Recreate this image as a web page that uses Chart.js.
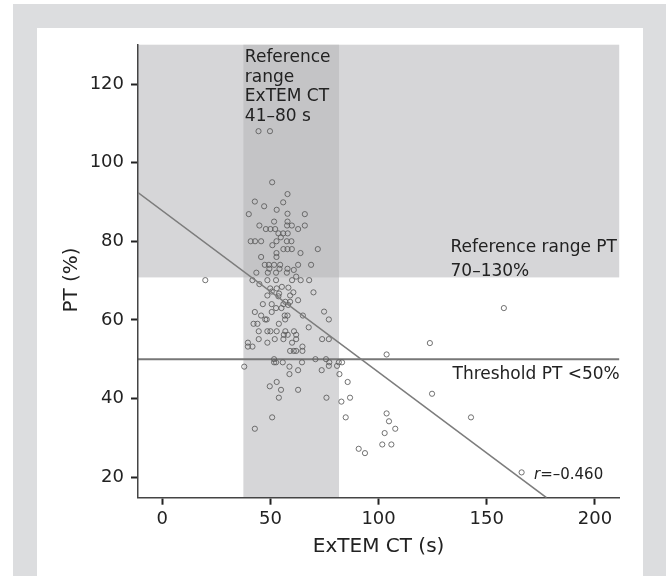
<!DOCTYPE html>
<html><head><meta charset="utf-8">
<script src="https://cdn.jsdelivr.net/npm/chart.js@4/dist/chart.umd.min.js"></script>
<style>
html,body{margin:0;padding:0;background:#fff;width:671px;height:576px;overflow:hidden;}
#frame{position:absolute;left:13px;top:4px;width:653px;height:620px;background:#dcdddf;}
#inner{position:absolute;left:37px;top:28px;width:606px;height:620px;background:#fff;}
canvas{position:absolute;left:0;top:0;}
</style></head><body>
<div id="frame"></div><div id="inner"></div>
<canvas id="c" width="671" height="576"></canvas>
<script>
// ExTEM CT (s)
const ctValues = [44.5,49.8,50.8,57.9,42.8,55.9,47.1,52.9,40,57.9,65.9,51.7,57.9,44.9,57.7,59.9,65.9,62.8,47.9,50,52.2,53.7,55.9,58,54.8,40.9,42.9,45.7,52.8,57.6,59.7,50.9,56,57.9,59.9,71.9,52.8,63.9,45.7,52.8,47.4,49.3,51.7,54.5,62.8,68.8,49.5,54.2,57.9,60.8,43.5,48.8,52.6,57.6,61.9,19.9,41.7,48.6,52.6,60,64,67.9,44.9,49.9,52.9,55.3,58.3,50.6,54,60.6,69.9,48.6,53.7,59.1,62.8,56.9,59.1,46.5,50.6,56,58.2,52.6,55.1,42.8,50.6,74.8,45.7,56.6,57.9,65,47.6,48.3,56.8,77,42.2,44,53.9,67.7,44.6,48.6,50,52.9,56.9,60.9,56.2,58,61.9,44.6,52,56,61.9,73.9,77,39.6,48.6,60,39.6,41.7,64.8,59.1,60.8,61.9,64.8,51.7,70.8,75.7,51.7,52.6,55.7,64.6,77.2,81.6,83.1,103.7,77,80.8,37.9,58.8,62.8,73.7,58.8,81.9,52.9,85.7,49.7,54.9,62.8,53.9,75.9,86.8,82.8,50.8,84.8,42.8,103.7,104.8,107.7,102.8,101.7,105.9,90.8,93.7,157.9,123.7,124.7,142.7,166.1];
// PT (%)
const ptValues = [108,108,95,92,90.1,89.9,88.9,88,86.9,87,86.9,85,85,84,84,84,84,83.1,83.1,83.1,83.1,82,82,82,81,80,80,80,80,80,80,79,78,78,78,78,77,77,76,76,74,74,74,74,74,74,73,73,73,72.7,72,72,72,72,71,70.1,70.1,70.1,70.1,70.1,70.1,70.1,69.1,68,68,68.4,68.2,67.2,66.7,67,67,66.2,66,66.2,65,64.6,64.6,64,64,64,63.8,63,63,62,62,62.1,61.1,61.1,61.1,61.1,60.1,60.1,60.1,60.1,59,59,59,58.1,57.1,57.1,57.1,57.1,57.1,57.1,56.2,56.2,56.2,55.1,55.1,55.1,55.1,55.1,55.1,54.2,54.2,54.2,53.2,53.2,53.2,52.1,52.1,52.1,52.1,50,50,50,49.2,49.2,49.2,49.2,49.2,49.2,49.2,51.2,48.3,48.3,48.1,48.1,47.2,47.2,46.2,46.2,44.2,44.2,43.1,42.2,42.2,40.2,40.2,40.2,39.2,35.2,35.2,32.3,36.2,34.2,32.3,31.2,28.3,28.3,27.2,26.1,63,54.1,41.2,35.2,21.2];

const xTicks = [0, 50, 100, 150, 200];
const yTicks = [20, 40, 60, 80, 100, 120];
const xRange = [-11.2, 211.2];
const yRange = [14.76, 130];
const ctRefRange = [37.5, 81.7];   // shaded ExTEM CT reference band
const ptRefRange = [70.8, 130];    // shaded PT reference band
const thresholdPT = 50;
const fitX = [-11.2, 177.6];       // regression line end points
const fitY = [92.4, 14.76];

const FONT = 'DejaVu Sans';
Chart.defaults.font.family = FONT;

const decor = {
  id: 'decor',
  beforeDraw(chart) {
    const {ctx, chartArea: a, scales: {x, y}} = chart;
    ctx.save();
    ctx.fillStyle = 'rgba(181,182,185,0.56)';
    const yTop = y.getPixelForValue(ptRefRange[1]), yBot = y.getPixelForValue(ptRefRange[0]);
    ctx.fillRect(a.left, yTop, a.right - a.left, yBot - yTop);
    const xl = x.getPixelForValue(ctRefRange[0]), xr = x.getPixelForValue(ctRefRange[1]);
    ctx.fillRect(xl, a.top, xr - xl, a.bottom - a.top);
    const ty = y.getPixelForValue(thresholdPT);
    ctx.strokeStyle = '#777'; ctx.lineWidth = 2;
    ctx.beginPath(); ctx.moveTo(a.left, ty); ctx.lineTo(a.right, ty); ctx.stroke();
    ctx.restore();
  },
  afterDraw(chart) {
    const {ctx, chartArea: a, scales: {x, y}} = chart;
    ctx.save();
    ctx.fillStyle = '#222';
    ctx.textAlign = 'left';
    ctx.textBaseline = 'alphabetic';
    ctx.font = '17px "' + FONT + '"';
    const bx = x.getPixelForValue(ctRefRange[0]) + 1.5;
    ['Reference', 'range', 'ExTEM CT', '41\u201380 s'].forEach((t, i) => ctx.fillText(t, bx, 62 + i * 19.5));
    ctx.fillText('Reference range PT', 450.5, 251.5);
    ctx.fillText('70\u2013130%', 450.5, 275.5);
    ctx.fillText('Threshold PT <50%', 452.5, 378.5);
    ctx.font = 'italic 15px "' + FONT + '"';
    ctx.fillText('r', 534, 478.5);
    const rw = ctx.measureText('r').width;
    ctx.font = '15px "' + FONT + '"';
    ctx.fillText('=\u20130.460', 534 + rw, 478.5);
    // axis titles
    ctx.font = '20px "' + FONT + '"';
    ctx.textAlign = 'center';
    ctx.textBaseline = 'middle';
    ctx.fillText('ExTEM CT (s)', (a.left + a.right) / 2, 546.5);
    ctx.translate(72, 280);
    ctx.rotate(-Math.PI / 2);
    ctx.fillText('PT (%)', 0, 0);
    ctx.restore();
  }
};

const axisCommon = {
  type: 'linear',
  grid: {display: true, drawOnChartArea: false, drawTicks: true, tickLength: 7, tickWidth: 2, tickColor: '#222', color: '#222'},
  border: {display: true, color: '#444', width: 1.5},
  ticks: {font: {size: 18, family: FONT}, color: '#222'}
};

new Chart(document.getElementById('c'), {
  type: 'scatter',
  data: {
    datasets: [
      {
        type: 'scatter',
        data: ctValues.map((v, i) => ({x: v, y: ptValues[i]})),
        pointStyle: 'circle',
        pointRadius: 2.6,
        borderWidth: 1,
        borderColor: 'rgba(90,90,90,0.85)',
        backgroundColor: 'rgba(0,0,0,0)',
        order: 2
      },
      {
        type: 'line',
        data: fitX.map((v, i) => ({x: v, y: fitY[i]})),
        borderColor: '#7d7d7d',
        borderWidth: 1.5,
        pointRadius: 0,
        fill: false,
        order: 1
      }
    ]
  },
  options: {
    responsive: false,
    devicePixelRatio: 1,
    animation: false,
    events: [],
    layout: {padding: {left: 0, right: 51.8, top: 44.7, bottom: 0}},
    plugins: {legend: {display: false}, tooltip: {enabled: false}},
    scales: {
      x: Object.assign({}, axisCommon, {
        min: xRange[0], max: xRange[1],
        ticks: Object.assign({}, axisCommon.ticks, {padding: 4}),
        afterBuildTicks: s => { s.ticks = xTicks.map(v => ({value: v})); },
        afterFit: s => { s.height = 576 - 497.7; }
      }),
      y: Object.assign({}, axisCommon, {
        min: yRange[0], max: yRange[1],
        ticks: Object.assign({}, axisCommon.ticks, {padding: 7}),
        afterBuildTicks: s => { s.ticks = yTicks.map(v => ({value: v})); },
        afterFit: s => { s.width = 138; }
      })
    }
  },
  plugins: [decor]
});
</script>
</body></html>
